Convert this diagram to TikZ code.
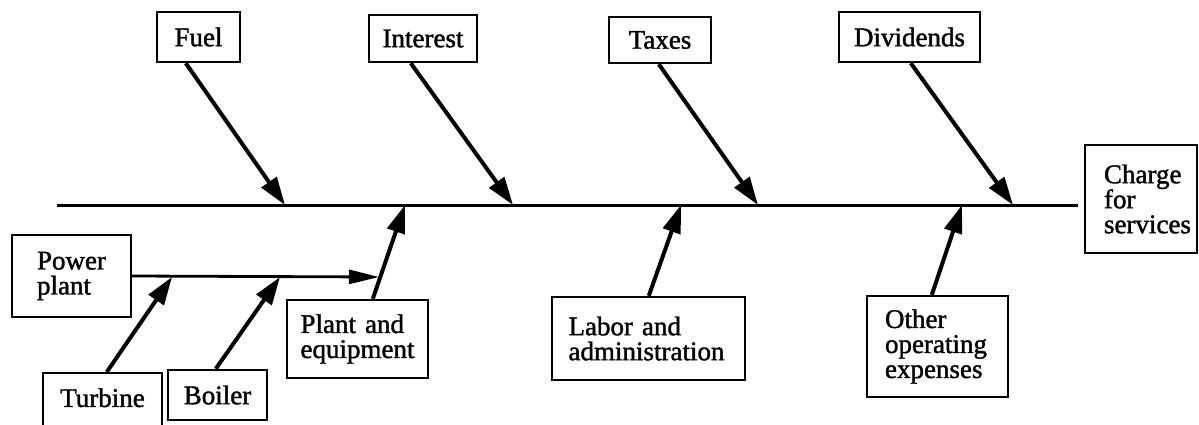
\documentclass[tikz,border=0pt]{standalone}
\usepackage{fontspec}
\setmainfont{Liberation Serif}
\newfontfamily\labelfont{Liberation Serif}[FakeBold=1.4]
\usetikzlibrary{arrows.meta}
\tikzset{
  box/.style={draw, line width=2.4pt, inner sep=0pt, align=left,
              font=\labelfont\fontsize{27}{25}\selectfont},
  spine/.style={line width=3pt},
  bone/.style={line width=4pt, -{Triangle[length=28pt,width=18pt]}},
  twig/.style={line width=2.8pt, -{Triangle[length=30pt,width=14pt]}},
}
\begin{document}
\begin{tikzpicture}[x=1pt,y=-1pt]
\useasboundingbox (0,0) rectangle (1199,425);
\clip (0,0) rectangle (1199,425);

% cause boxes above the spine
\node[box, minimum width=83, minimum height=50] (fuel) at (198.5,37) {Fuel};
\node[box, minimum width=108, minimum height=47] (interest) at (423,38.5) {Interest};
\node[box, minimum width=102, minimum height=46] (taxes) at (660,40) {Taxes};
\node[box, minimum width=141, minimum height=50] (dividends) at (909.5,37) {Dividends};

% effect box
\node[box, text width=100, inner xsep=6, minimum height=108] (charge) at (1141,199)
  {\hspace*{13pt}\mbox{Charge}\\\hspace*{13pt}\mbox{for}\\\hspace*{13pt}\mbox{services}};

% cause boxes below the spine
\node[box, text width=114, inner xsep=13.5, minimum height=78] (pe) at (357.5,339)
  {Plant and\\equipment};
\node[box, text width=160, inner xsep=16.5, minimum height=83] (labor) at (648.5,338.5)
  {Labor and\\administration};
\node[box, text width=105, inner xsep=18, minimum height=101] (other) at (937.5,346.5)
  {Other\\operating\\expenses};

% sub-causes of plant and equipment
\node[box, text width=69, inner xsep=25, minimum height=82] (pp) at (71.5,276)
  {Power\\plant};
\node[box, anchor=north, minimum width=119, inner ysep=15, text depth=40pt] (turbine)
  at (102.5,372) {Turbine};
\node[box, minimum width=99, minimum height=50] (boiler) at (217.5,395) {Boiler};

% spine and the points where the bones meet it
\coordinate (tail) at (57,205);
\coordinate (head) at (1078,205);
\coordinate (fuelTip) at (285,205);
\coordinate (interestTip) at (513,205);
\coordinate (taxesTip) at (758,205);
\coordinate (dividendsTip) at (1013,205);
\coordinate (peTip) at (405,205);
\coordinate (laborTip) at (681,205);
\coordinate (otherTip) at (962,205);
\coordinate (ppTip) at (379,277);
\coordinate (turbineTip) at (172,277);
\coordinate (boilerTip) at (280,277);

\draw[spine] (tail) -- (head);

\draw[bone] ([xshift=30pt]fuel.south west) -- (fuelTip);
\draw[bone] ([xshift=43pt]interest.south west) -- (interestTip);
\draw[bone] ([xshift=51pt]taxes.south west) -- (taxesTip);
\draw[bone] ([xshift=73pt]dividends.south west) -- (dividendsTip);

\draw[bone] ([xshift=87pt]pe.north west) -- (peTip);
\draw[bone] ([xshift=98pt]labor.north west) -- (laborTip);
\draw[bone] ([xshift=66pt]other.north west) -- (otherTip);

\draw[twig] (pp.east) -- (ppTip);
\draw[bone] ([xshift=65pt]turbine.north west) -- (turbineTip);
\draw[bone] ([xshift=49pt]boiler.north west) -- (boilerTip);
\end{tikzpicture}
\end{document}
